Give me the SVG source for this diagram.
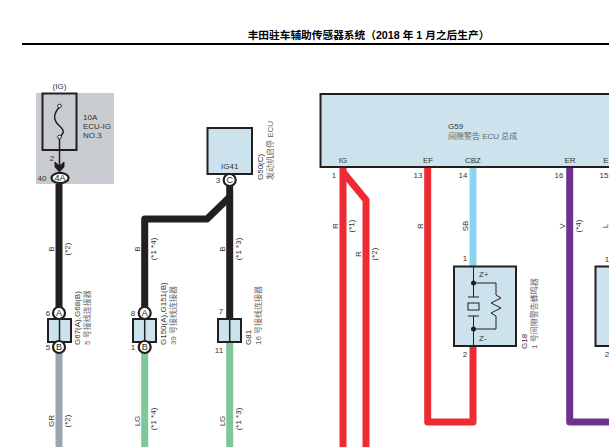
<svg xmlns="http://www.w3.org/2000/svg" width="609" height="447" viewBox="0 0 609 447">
<style>
text{font-family:"Liberation Sans","Noto Sans CJK SC",sans-serif;font-size:8px;fill:#333}
.cn{fill:#666}
.m{text-anchor:middle}
.pl{font-size:9px;fill:#231f20}
.title{font-size:10.700px;font-weight:bold;fill:#000}
.w{fill:none;stroke-width:7;stroke-linejoin:round}
.box{fill:#cce3ed;stroke:#231f20;stroke-width:2}
.pin{fill:#fff;stroke:#231f20;stroke-width:2.200}
.thin{fill:none;stroke:#231f20;stroke-width:1}
.mid{fill:none;stroke:#231f20;stroke-width:1.500}
.blk{stroke:#231f20}.red{stroke:#ee2b32}.gr{stroke:#9aa5ad}.lg{stroke:#7fc79a}.sb{stroke:#8dd3ef}.v{stroke:#6f3290}
</style>
<g id="header">
<rect x="22" y="43" width="587" height="2" fill="#000"/>
<text class="title" x="368.500" y="39" text-anchor="middle">丰田驻车辅助传感器系统（2018 年 1 月之后生产）</text>
</g>
<g id="connectors">
<path class="w blk" d="M59 173V308"/>
<path class="w gr" d="M59 352V447"/>
<path class="w blk" d="M144.700 308V219H207L229.700 197"/>
<path class="w blk" d="M229.700 185V318"/>
<path class="w lg" d="M144.700 352V447"/>
<path class="w lg" d="M229.700 342V447"/>
<path class="w red" d="M343 167V447"/>
<path class="w red" d="M343 172L366 200V447"/>
<path class="w sb" d="M473 167V266"/>
<path class="w red" d="M427.700 167V422H473V346"/>
<path class="w v" d="M569.700 167V422H609"/>
</g>
<g id="fuse">
<rect x="36" y="93" width="78" height="91" fill="#c8cbd0"/>
<rect x="42.500" y="93.500" width="34" height="56.500" fill="none" stroke="#231f20" stroke-width="2"/>
<path class="mid" d="M59.500 107C53 114 53 120 59.500 126C65 131 64 133 59.500 137"/>
<circle cx="59.500" cy="106" r="1.800" fill="#fff" stroke="#231f20"/>
<circle cx="59.500" cy="137" r="1.800" fill="#fff" stroke="#231f20"/>
<path class="mid" d="M59.500 139V166"/>
<path d="M55 162L59.500 166L64 162V167L59.500 172L55 167Z" fill="#231f20" stroke="#231f20"/>
<ellipse cx="60" cy="178" rx="8.500" ry="5.200" class="pin"/>
<text x="60" y="181" class="m pl">4A</text>
<text x="59.500" y="89" class="m">(IG)</text>
<text x="83" y="120">10A</text>
<text x="83" y="129">ECU-IG</text>
<text x="83" y="138">NO.3</text>
<text x="52" y="161" class="m">2</text>
<text x="42" y="181" class="m">40</text>
</g>
<g id="wirelabels">
<text class="m" transform="translate(54 249) rotate(-90)">B</text>
<text class="m" transform="translate(70 249) rotate(-90)">(*2)</text>
<text class="m" transform="translate(54 421) rotate(-90)">GR</text>
<text class="m" transform="translate(70 421) rotate(-90)">(*2)</text>
<text class="m" transform="translate(139.500 249) rotate(-90)">B</text>
<text class="m" transform="translate(155.500 249) rotate(-90)">(*1 *4)</text>
<text class="m" transform="translate(139.500 421) rotate(-90)">LG</text>
<text class="m" transform="translate(155.500 419) rotate(-90)">(*1 *4)</text>
<text class="m" transform="translate(224.500 249) rotate(-90)">B</text>
<text class="m" transform="translate(240.500 249) rotate(-90)">(*1 *3)</text>
<text class="m" transform="translate(224.500 421) rotate(-90)">LG</text>
<text class="m" transform="translate(240.500 419) rotate(-90)">(*1 *3)</text>
<text class="m" transform="translate(338 226) rotate(-90)">R</text>
<text class="m" transform="translate(353.500 226) rotate(-90)">(*1)</text>
<text class="m" transform="translate(360.500 254) rotate(-90)">R</text>
<text class="m" transform="translate(376.500 254) rotate(-90)">(*2)</text>
<text class="m" transform="translate(423 226) rotate(-90)">R</text>
<text class="m" transform="translate(468 226) rotate(-90)">SB</text>
<text class="m" transform="translate(565 226) rotate(-90)">V</text>
<text class="m" transform="translate(580.500 226) rotate(-90)">(*4)</text>
<text class="m" transform="translate(608 226) rotate(-90)">L</text>
</g>
<g id="G67">
<rect class="box" x="48" y="319" width="23" height="23"/>
<path class="mid" d="M59.500 319V342"/>
<circle class="pin" cx="59" cy="313" r="6"/><text x="59" y="316" class="m pl">A</text>
<circle class="pin" cx="59" cy="347" r="6"/><text x="59" y="350" class="m pl">B</text>
<text x="48" y="316" class="m">6</text><text x="48" y="350" class="m">5</text>
<text transform="translate(80 345) rotate(-90)">G67(A),G68(B)</text>
<text class="cn" transform="translate(90 345) rotate(-90)">5 号接线连接器</text>
</g>
<g id="G150">
<rect class="box" x="133" y="319" width="23" height="23"/>
<path class="mid" d="M144.700 319V342"/>
<circle class="pin" cx="144.700" cy="313" r="6"/><text x="144.700" y="316" class="m pl">A</text>
<circle class="pin" cx="144.700" cy="347" r="6"/><text x="144.700" y="350" class="m pl">B</text>
<text x="133" y="316" class="m">8</text><text x="133" y="350" class="m">1</text>
<text transform="translate(166 345) rotate(-90)">G150(A),G151(B)</text>
<text class="cn" transform="translate(176 345) rotate(-90)">39 号接线连接器</text>
</g>
<g id="G81">
<rect class="box" x="218" y="319" width="23" height="23"/>
<path class="mid" d="M229.700 319V342"/>
<text x="221" y="314" class="m">7</text><text x="219" y="353" class="m">11</text>
<text transform="translate(251 345) rotate(-90)">G81</text>
<text class="cn" transform="translate(261 345) rotate(-90)">16 号接线连接器</text>
</g>
<g id="G50">
<rect class="box" x="207.500" y="128" width="44.500" height="46"/>
<text x="229.700" y="169" class="m">IG41</text>
<circle class="pin" cx="229.700" cy="180" r="6"/><text x="229.700" y="183" class="m pl">C</text>
<text x="218" y="183" class="m">3</text>
<text transform="translate(263 180) rotate(-90)">G50(C)</text>
<text class="cn" transform="translate(273 180) rotate(-90)">发动机启停 ECU</text>
</g>
<g id="G59">
<rect class="box" x="320.500" y="94" width="295" height="73"/>
<text x="448" y="129">G59</text>
<text class="cn" x="448" y="139">间隙警告 ECU 总成</text>
<text x="343" y="163" class="m">IG</text>
<text x="428" y="163" class="m">EF</text>
<text x="473" y="163" class="m">CBZ</text>
<text x="570" y="163" class="m">ER</text>
<text x="608.500" y="163" text-anchor="end">E</text>
<text x="334" y="178" class="m">1</text>
<text x="418" y="178" class="m">13</text>
<text x="463" y="178" class="m">14</text>
<text x="559" y="178" class="m">16</text>
<text x="604" y="178" class="m">15</text>
</g>
<g id="G18">
<rect class="box" x="454" y="266.500" width="62" height="79.500"/>
<path class="thin" d="M473.500 267V297M473.500 316V346M468 297H479M468 316H479M473.500 283H496V295L501 298L491 303L501 308L491 313L496 316V329H473.500"/>
<rect class="thin" x="468" y="303" width="11" height="7"/>
<circle cx="473.500" cy="283" r="2.500" fill="#231f20"/>
<circle cx="473.500" cy="329" r="2.500" fill="#231f20"/>
<text x="479" y="277">Z+</text>
<text x="479" y="341">Z-</text>
<text x="465" y="261" class="m">1</text>
<text x="465" y="357" class="m">2</text>
<text transform="translate(527 349) rotate(-90)">G18</text>
<text class="cn" transform="translate(537 349) rotate(-90)">1 号间隙警告蜂鸣器</text>
</g>
<g id="G18b">
<rect class="box" x="595.500" y="266.500" width="30" height="79.500"/>
<text x="607" y="262" class="m">1</text>
<text x="607" y="357" class="m">2</text>
</g>
</svg>
